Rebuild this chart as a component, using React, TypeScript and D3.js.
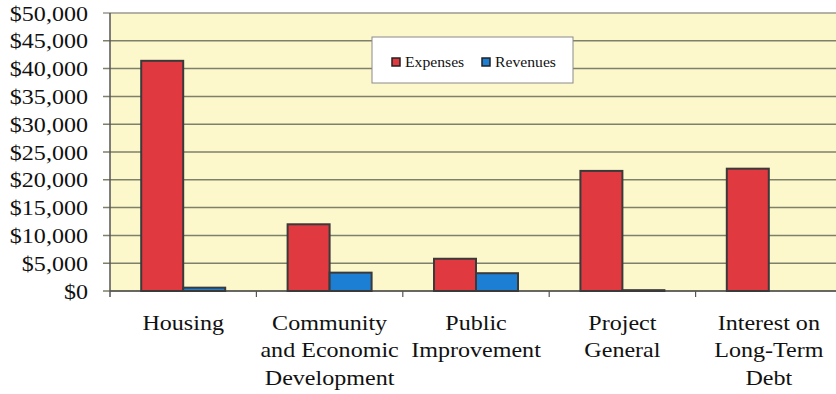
import React from "react";
import * as d3 from "d3";

const categories: string[][] = [
  ["Housing"],
  ["Community", "and Economic", "Development"],
  ["Public", "Improvement"],
  ["Project", "General"],
  ["Interest on", "Long-Term", "Debt"],
];
const expenses = [41400, 12000, 5800, 21600, 22000];
const revenues = [600, 3300, 3200, 150, 0];
const seriesNames = ["Expenses", "Revenues"];
const yTicks = [0, 5000, 10000, 15000, 20000, 25000, 30000, 35000, 40000, 45000, 50000];

const W = 836;
const H = 394;
const left = 110;
const top = 13;
const bottom = 291;
const catW = 146.4;
const barW = 42;
const colors = ["#e0393f", "#1c7fd3"];
const font = "'Liberation Serif', 'Times New Roman', serif";
const sx = 1.12;

export default function App() {
  const x = d3
    .scaleBand<number>()
    .domain(categories.map((_, i) => i))
    .range([left, left + catW * categories.length])
    .paddingInner(0)
    .paddingOuter(0);
  const y = d3.scaleLinear().domain([0, 50000]).range([bottom, top]);
  const fmt = (v: number) => "$" + d3.format(",")(v);
  const series = [expenses, revenues];

  return (
    <svg
      width={W}
      height={H}
      style={{ position: "absolute", left: 0, top: 0, background: "#fff" }}
    >
      <rect x={left} y={top} width={W - left + 10} height={bottom - top} fill="#fdf8cb" />
      {yTicks.map((t) => (
        <g key={t}>
          <line
            x1={103}
            x2={W}
            y1={y(t)}
            y2={y(t)}
            stroke={t === 50000 ? "#9a9a90" : "#7e806a"}
            strokeWidth={1.5}
          />
          <text
            transform={`translate(88,${y(t)}) scale(${sx},1)`}
            dy="0.35em"
            textAnchor="end"
            fontFamily={font}
            fontSize={21.5}
            fill="#111"
          >
            {fmt(t)}
          </text>
        </g>
      ))}
      <line x1={left} x2={left} y1={top} y2={bottom + 6} stroke="#555" strokeWidth={1.5} />
      <line x1={left} x2={W} y1={bottom} y2={bottom} stroke="#555" strokeWidth={1.5} />
      {categories.map((_, i) => (
        <line
          key={"tk" + i}
          x1={(x(i) as number) + catW}
          x2={(x(i) as number) + catW}
          y1={bottom}
          y2={bottom + 6}
          stroke="#555"
          strokeWidth={1.2}
        />
      ))}
      {series.map((vals, s) =>
        vals.map((v, i) => {
          const cx = (x(i) as number) + x.bandwidth() / 2;
          const bx = cx - barW + s * barW;
          if (v <= 0) return null;
          return (
            <rect
              key={s + "-" + i}
              x={bx}
              y={y(v)}
              width={barW}
              height={bottom - y(v)}
              fill={colors[s]}
              stroke="#3a3a3a"
              strokeWidth={2}
            />
          );
        })
      )}
      {categories.map((lines, i) => {
        const cx = (x(i) as number) + x.bandwidth() / 2;
        return (
          <g key={"lab" + i} transform={`translate(${cx},0) scale(${sx},1)`}>
            <text textAnchor="middle" fontFamily={font} fontSize={21.5} fill="#111">
              {lines.map((l, j) => (
                <tspan key={j} x={0} y={330 + j * 27.5}>
                  {l}
                </tspan>
              ))}
            </text>
          </g>
        );
      })}
      <g>
        <rect x={372} y={37} width={201} height={46} fill="#fff" stroke="#8a8a8a" strokeWidth={1} />
        {seriesNames.map((n, s) => {
          const lx = s === 0 ? 392 : 482;
          return (
            <g key={n}>
              <rect x={lx} y={58} width={8} height={8} fill={colors[s]} stroke="#222" strokeWidth={1.5} />
              <text
                transform={`translate(${lx + 13},62) scale(${sx},1)`}
                dy="0.35em"
                fontFamily={font}
                fontSize={14}
                fill="#111"
              >
                {n}
              </text>
            </g>
          );
        })}
      </g>
    </svg>
  );
}
